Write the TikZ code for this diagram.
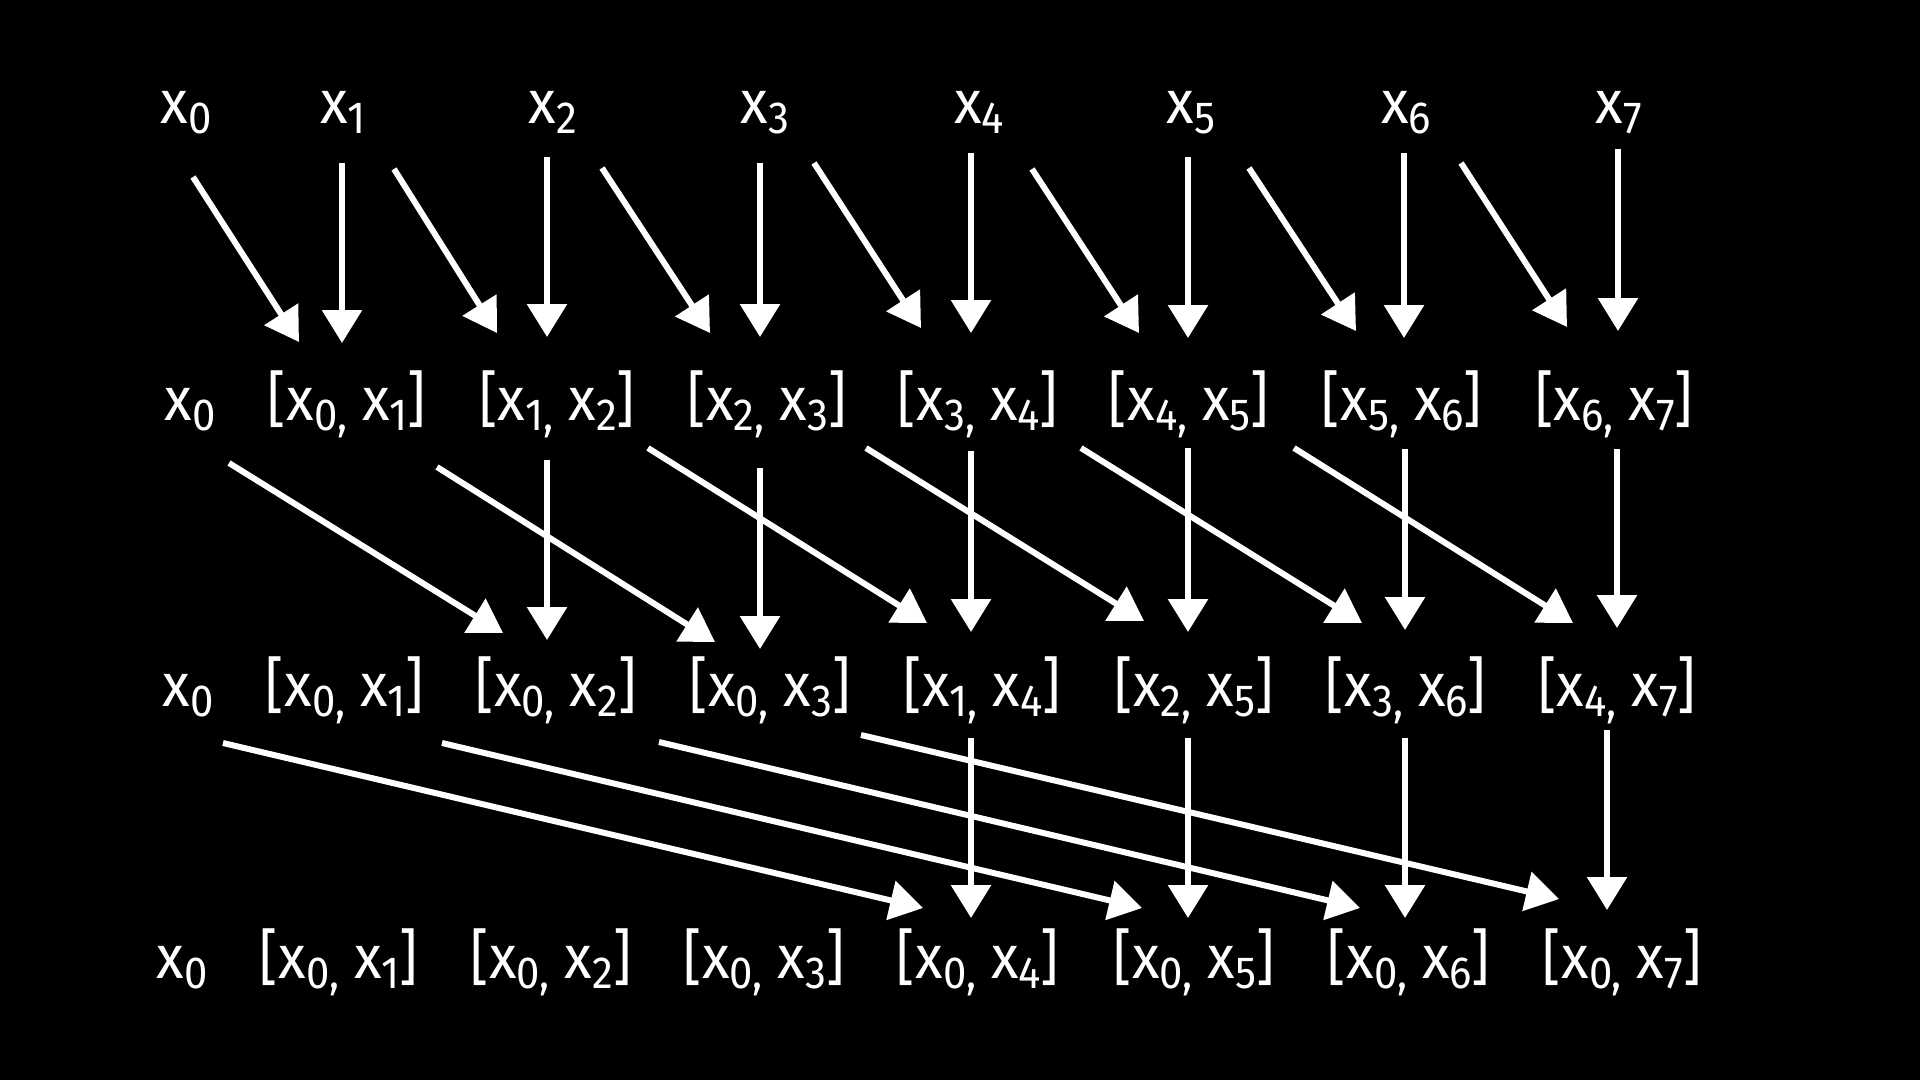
\documentclass[tikz,border=0pt]{standalone}
\usepackage{fontspec}
\setmainfont{Fira Sans}[FakeStretch=0.93]
\usetikzlibrary{arrows.meta,calc}
\newcommand\xs[1]{x\raisebox{-10pt}{\fontsize{45pt}{45pt}\selectfont #1}}
\newcommand\conn[6]{\draw[arr] ($(#1.base)+(#2,#3)$) -- ($(#4.base)+(#5,#6)$);}
\begin{document}
\begin{tikzpicture}[x=1pt,y=-1pt,
  lab/.style={text=white, inner sep=0pt, anchor=base, font=\fontsize{61pt}{61pt}\selectfont},
  arr/.style={draw=white, line width=6pt, -{Triangle[length=33pt,width=39pt]}}]
\fill[black] (0,0) rectangle (1920,1080);
\useasboundingbox (0,0) rectangle (1920,1080);
% row 1
\node[lab] (r1-0) at (186,123) {\xs{0}};
\node[lab] (r1-1) at (343,123) {\xs{1}};
\node[lab] (r1-2) at (553,123) {\xs{2}};
\node[lab] (r1-3) at (765,123) {\xs{3}};
\node[lab] (r1-4) at (979,123) {\xs{4}};
\node[lab] (r1-5) at (1191,123) {\xs{5}};
\node[lab] (r1-6) at (1406,123) {\xs{6}};
\node[lab] (r1-7) at (1619,123) {\xs{7}};
% row 2
\node[lab] (r2-0) at (190,420) {\xs{0}};
\node[lab] (r2-1) at (347,420) {[\xs{0,} \xs{1}]};
\node[lab] (r2-2) at (557,420) {[\xs{1,} \xs{2}]};
\node[lab] (r2-3) at (767,420) {[\xs{2,} \xs{3}]};
\node[lab] (r2-4) at (978,420) {[\xs{3,} \xs{4}]};
\node[lab] (r2-5) at (1189,420) {[\xs{4,} \xs{5}]};
\node[lab] (r2-6) at (1402,420) {[\xs{5,} \xs{6}]};
\node[lab] (r2-7) at (1614,420) {[\xs{6,} \xs{7}]};
% row 3
\node[lab] (r3-0) at (188,706) {\xs{0}};
\node[lab] (r3-1) at (345,706) {[\xs{0,} \xs{1}]};
\node[lab] (r3-2) at (556,706) {[\xs{0,} \xs{2}]};
\node[lab] (r3-3) at (770,706) {[\xs{0,} \xs{3}]};
\node[lab] (r3-4) at (982,706) {[\xs{1,} \xs{4}]};
\node[lab] (r3-5) at (1194,706) {[\xs{2,} \xs{5}]};
\node[lab] (r3-6) at (1406,706) {[\xs{3,} \xs{6}]};
\node[lab] (r3-7) at (1617,706) {[\xs{4,} \xs{7}]};
% row 4
\node[lab] (r4-0) at (182,978) {\xs{0}};
\node[lab] (r4-1) at (339,978) {[\xs{0,} \xs{1}]};
\node[lab] (r4-2) at (551,978) {[\xs{0,} \xs{2}]};
\node[lab] (r4-3) at (764,978) {[\xs{0,} \xs{3}]};
\node[lab] (r4-4) at (978,978) {[\xs{0,} \xs{4}]};
\node[lab] (r4-5) at (1194,978) {[\xs{0,} \xs{5}]};
\node[lab] (r4-6) at (1409,978) {[\xs{0,} \xs{6}]};
\node[lab] (r4-7) at (1622,978) {[\xs{0,} \xs{7}]};
% stage 1 verticals
\conn{r1-1}{-1}{40}{r2-1}{-5}{-77}
\conn{r1-2}{-6}{34}{r2-2}{-10}{-83}
\conn{r1-3}{-5}{40}{r2-3}{-7}{-83}
\conn{r1-4}{-8}{30}{r2-4}{-7}{-87}
\conn{r1-5}{-3}{34}{r2-5}{-1}{-82}
\conn{r1-6}{-2}{30}{r2-6}{2}{-82}
\conn{r1-7}{-1}{26}{r2-7}{4}{-89}
% stage 1 diagonals
\conn{r1-0}{7}{54}{r2-1}{-48}{-78}
\conn{r1-1}{51}{46}{r2-2}{-60}{-87}
\conn{r1-2}{49}{45}{r2-3}{-57}{-87}
\conn{r1-3}{49}{40}{r2-4}{-57}{-92}
\conn{r1-4}{53}{46}{r2-5}{-50}{-87}
\conn{r1-5}{58}{45}{r2-6}{-46}{-89}
\conn{r1-6}{55}{40}{r2-7}{-47}{-93}
% stage 2 verticals
\conn{r2-2}{-10}{40}{r3-2}{-9}{-66}
\conn{r2-3}{-7}{48}{r3-3}{-10}{-57}
\conn{r2-4}{-7}{31}{r3-4}{-11}{-74}
\conn{r2-5}{-1}{28}{r3-5}{-6}{-74}
\conn{r2-6}{3}{29}{r3-6}{-1}{-76}
\conn{r2-7}{3}{29}{r3-7}{0}{-78}
% stage 2 diagonals
\conn{r2-0}{39}{43}{r3-2}{-53}{-73}
\conn{r2-1}{90}{47}{r3-3}{-55}{-64}
\conn{r2-2}{91}{28}{r3-4}{-55}{-83}
\conn{r2-3}{99}{28}{r3-5}{-50}{-85}
\conn{r2-4}{103}{28}{r3-6}{-44}{-83}
\conn{r2-5}{105}{28}{r3-7}{-44}{-83}
% stage 3 verticals
\conn{r3-4}{-11}{32}{r4-4}{-7}{-60}
\conn{r3-5}{-6}{32}{r4-5}{-6}{-60}
\conn{r3-6}{-1}{32}{r4-6}{-4}{-60}
\conn{r3-7}{-10}{24}{r4-7}{-15}{-68}
% stage 3 diagonals
\conn{r3-0}{35}{37}{r4-4}{-55}{-70}
\conn{r3-1}{97}{37}{r4-5}{-52}{-70}
\conn{r3-2}{103}{36}{r4-6}{-49}{-70}
\conn{r3-3}{91}{29}{r4-7}{-63}{-79}
\end{tikzpicture}
\end{document}
